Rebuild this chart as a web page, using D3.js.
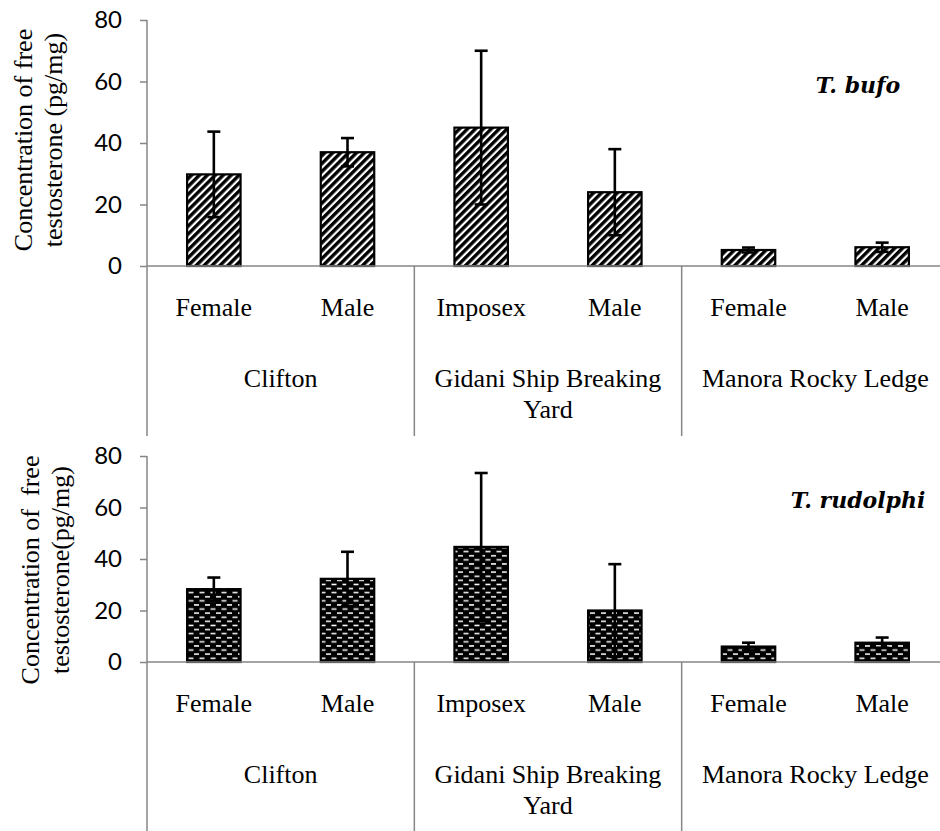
<!DOCTYPE html>
<html>
<head>
<meta charset="utf-8">
<script src="https://cdn.jsdelivr.net/npm/d3@7"></script>
<style>
  body { margin: 0; background: #fff; }
  svg { display: block; }
  .tick text { font-family: Lato, "Open Sans", sans-serif; font-size: 24px; fill: #000; }
  .lbl { font-family: "Liberation Serif", "Times New Roman", serif; font-size: 26px; fill: #000; }
  .title { font-family: "DejaVu Serif", serif; font-style: italic; font-weight: bold; font-size: 22px; }
</style>
</head>
<body>
<svg id="chart" width="940" height="831"></svg>
<script>
// categories
const groups = [["Clifton"], ["Gidani Ship Breaking", "Yard"], ["Manora Rocky Ledge"]];
const sexes = ["Female", "Male", "Imposex", "Male", "Female", "Male"];
const yTicks = [0, 20, 40, 60, 80];

// T. bufo
const bufoMean = [29.8, 37, 45, 24, 5.2, 6.1];
const bufoErr  = [13.9, 4.6, 25, 14, 0.8, 1.5];
// T. rudolphi
const rudolphiMean = [28.3, 32.3, 44.7, 20, 6, 7.5];
const rudolphiErr  = [4.5, 10.5, 28.7, 18, 1.5, 2];

const svg = d3.select("#chart");
const defs = svg.append("defs");

// diagonal stripes
const diag = defs.append("pattern")
  .attr("id", "diag")
  .attr("patternUnits", "userSpaceOnUse")
  .attr("width", 5.6).attr("height", 5.6)
  .attr("patternTransform", "rotate(45)");
diag.append("rect").attr("width", 5.6).attr("height", 5.6).attr("fill", "#fff");
diag.append("rect").attr("width", 3.4).attr("height", 5.6).attr("fill", "#000");

// dashed bricks
const brick = defs.append("pattern")
  .attr("id", "brick")
  .attr("patternUnits", "userSpaceOnUse")
  .attr("width", 11).attr("height", 8.2);
brick.append("rect").attr("width", 11).attr("height", 8.2).attr("fill", "#000");
brick.append("rect").attr("x", 1.5).attr("y", 1.5).attr("width", 5).attr("height", 1.5).attr("fill", "#fff");
brick.append("rect").attr("x", 7).attr("y", 5.6).attr("width", 5).attr("height", 1.5).attr("fill", "#fff");
brick.append("rect").attr("x", -4).attr("y", 5.6).attr("width", 5).attr("height", 1.5).attr("fill", "#fff");

const x = d3.scaleBand()
  .domain(d3.range(sexes.length))
  .range([147, 949])
  .paddingInner(0.6).paddingOuter(0.3);

const drawPanel = (cfg) => {
  const g = svg.append("g");
  const y = d3.scaleLinear().domain([0, 80]).range([cfg.y0, cfg.y80]);
  const axisColor = "#868686";
  const step = x.step();

  // y axis
  const yAxis = g.append("g")
    .attr("transform", "translate(147,0)")
    .call(d3.axisLeft(y).tickValues(yTicks).tickSize(7).tickPadding(18));
  yAxis.select(".domain").remove();
  yAxis.selectAll(".tick line").attr("stroke", axisColor).attr("stroke-width", 1.5);

  g.append("line")
    .attr("x1", 147).attr("x2", 147)
    .attr("y1", cfg.y80).attr("y2", cfg.bottom)
    .attr("stroke", axisColor).attr("stroke-width", 1.5);

  // bars
  g.selectAll(".bar")
    .data(cfg.mean)
    .enter().append("rect")
    .attr("class", "bar")
    .attr("x", (d, i) => x(i))
    .attr("width", x.bandwidth())
    .attr("y", d => y(d))
    .attr("height", d => y(0) - y(d))
    .attr("fill", `url(#${cfg.pattern})`)
    .attr("stroke", "#000")
    .attr("stroke-width", 2.2);

  // x axis line
  g.append("line")
    .attr("x1", 147).attr("x2", 940)
    .attr("y1", y(0)).attr("y2", y(0))
    .attr("stroke", axisColor).attr("stroke-width", 1.5);

  // group separators
  [2, 4].forEach(k => {
    g.append("line")
      .attr("x1", 147 + k * step).attr("x2", 147 + k * step)
      .attr("y1", y(0)).attr("y2", cfg.bottom)
      .attr("stroke", axisColor).attr("stroke-width", 1.5);
  });

  // error bars
  const eb = g.selectAll(".err")
    .data(cfg.mean.map((m, i) => ({ m, e: cfg.err[i], i })))
    .enter().append("g").attr("class", "err")
    .attr("stroke", "#000").attr("stroke-width", 2.6);
  const cx = d => x(d.i) + x.bandwidth() / 2;
  eb.append("line")
    .attr("x1", cx).attr("x2", cx)
    .attr("y1", d => y(d.m - d.e)).attr("y2", d => y(d.m + d.e));
  eb.append("line")
    .attr("x1", d => cx(d) - 6.5).attr("x2", d => cx(d) + 6.5)
    .attr("y1", d => y(d.m + d.e)).attr("y2", d => y(d.m + d.e));
  eb.append("line")
    .attr("x1", d => cx(d) - 6.5).attr("x2", d => cx(d) + 6.5)
    .attr("y1", d => y(d.m - d.e)).attr("y2", d => y(d.m - d.e));

  // category labels
  g.selectAll(".sex")
    .data(sexes)
    .enter().append("text")
    .attr("class", "lbl")
    .attr("x", (d, i) => x(i) + x.bandwidth() / 2)
    .attr("y", y(0) + 50)
    .attr("text-anchor", "middle")
    .text(d => d);

  groups.forEach((lines, k) => {
    const t = g.append("text")
      .attr("class", "lbl")
      .attr("text-anchor", "middle")
      .attr("x", 147 + (2 * k + 1) * step)
      .attr("y", y(0) + 121);
    lines.forEach((s, j) => {
      t.append("tspan")
        .attr("x", 147 + (2 * k + 1) * step)
        .attr("dy", j === 0 ? 0 : 31)
        .text(s);
    });
  });

  // y axis title
  const yt = g.append("text")
    .attr("class", "lbl")
    .attr("text-anchor", "middle")
    .attr("transform", `translate(${cfg.titleX},${cfg.titleY}) rotate(-90)`);
  cfg.yTitle.forEach((s, j) => {
    yt.append("tspan")
      .attr("x", 0)
      .attr("dy", j === 0 ? 0 : 30)
      .attr("xml:space", "preserve")
      .text(s);
  });

  // species
  g.append("text")
    .attr("class", "title")
    .attr("x", 858)
    .attr("y", cfg.speciesY)
    .attr("text-anchor", "middle")
    .text(cfg.species);
};

drawPanel({
  y0: 266, y80: 20, bottom: 436,
  mean: bufoMean, err: bufoErr, pattern: "diag",
  yTitle: ["Concentration of free", "testosterone (pg/mg)"],
  titleX: 32, titleY: 140,
  species: "T. bufo", speciesY: 93
});

drawPanel({
  y0: 662, y80: 456, bottom: 831,
  mean: rudolphiMean, err: rudolphiErr, pattern: "brick",
  yTitle: ["Concentration of  free", "testosterone(pg/mg)"],
  titleX: 39, titleY: 570,
  species: "T. rudolphi", speciesY: 508
});
</script>
</body>
</html>
